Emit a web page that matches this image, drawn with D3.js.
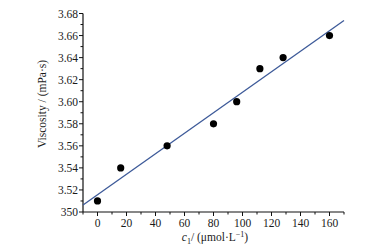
<!DOCTYPE html>
<html><head><meta charset="utf-8">
<script src="https://cdn.jsdelivr.net/npm/d3@7"></script>
<style>body{margin:0;background:#fff}svg{display:block}text{font-family:"Liberation Serif","DejaVu Serif",serif;fill:#1a1a1a}</style>
</head><body><div id="chart"></div>
<script>
const concentrations = [0, 16, 48, 80, 96, 112, 128, 160];
const viscosity = [3.51, 3.54, 3.56, 3.58, 3.60, 3.63, 3.64, 3.66];
const xTicks = [0, 20, 40, 60, 80, 100, 120, 140, 160];
const yTicks = [3.50, 3.52, 3.54, 3.56, 3.58, 3.60, 3.62, 3.64, 3.66, 3.68];
const yTickLabels = ["350", "3.52", "3.54", "3.56", "3.58", "3.60", "3.62", "3.64", "3.66", "3.68"];
const fitRange = [-10, 170];

const W = 378, H = 249;
const svg = d3.select("#chart").append("svg").attr("width", W).attr("height", H);
const x = d3.scaleLinear().domain([-10, 170]).range([83, 344]);
const y = d3.scaleLinear().domain([3.50, 3.68]).range([212, 13.5]);

// least squares fit from data
const mx = d3.mean(concentrations), my = d3.mean(viscosity);
let sxy = 0, sxx = 0;
concentrations.forEach((c, i) => { sxy += (c - mx) * (viscosity[i] - my); sxx += (c - mx) ** 2; });
const slope = sxy / sxx, icpt = my - slope * mx;

// minor ticks
const xMinor = d3.range(-10, 171, 10).filter(v => !xTicks.includes(v));
const yMinor = d3.range(0, 19).map(i => +(3.50 + i * 0.01).toFixed(2)).filter(v => !yTicks.some(t => Math.abs(t - v) < 1e-9));

const gx = svg.append("g").attr("transform", `translate(0,${y(3.50)})`);
gx.append("line").attr("x1", x(-10)).attr("x2", x(170)).attr("stroke", "#111").attr("stroke-width", 1.2);
gx.selectAll(".xmaj").data(xTicks).join("line").attr("x1", d => x(d)).attr("x2", d => x(d)).attr("y1", 0).attr("y2", 4).attr("stroke", "#111");
gx.selectAll(".xmin").data(xMinor).join("line").attr("x1", d => x(d)).attr("x2", d => x(d)).attr("y1", 0).attr("y2", 2.5).attr("stroke", "#111");
gx.selectAll(".xl").data(xTicks).join("text").attr("x", d => x(d)).attr("y", 15).attr("text-anchor", "middle").attr("font-size", 11.5).text(d => d);

const gy = svg.append("g").attr("transform", `translate(${x(-10)},0)`);
gy.append("line").attr("y1", y(3.50)).attr("y2", y(3.68)).attr("stroke", "#111").attr("stroke-width", 1.2);
gy.selectAll(".ymaj").data(yTicks).join("line").attr("y1", d => y(d)).attr("y2", d => y(d)).attr("x1", 0).attr("x2", -4).attr("stroke", "#111");
gy.selectAll(".ymin").data(yMinor).join("line").attr("y1", d => y(d)).attr("y2", d => y(d)).attr("x1", 0).attr("x2", -2.5).attr("stroke", "#111");
gy.selectAll(".yl").data(yTicks).join("text").attr("x", -5).attr("y", d => y(d) + 4).attr("text-anchor", "end").attr("font-size", 11.5).text((d, i) => yTickLabels[i]);

// fit line
svg.append("line")
  .attr("x1", x(fitRange[0])).attr("y1", y(icpt + slope * fitRange[0]))
  .attr("x2", x(fitRange[1])).attr("y2", y(icpt + slope * fitRange[1]))
  .attr("stroke", "#3d5a99").attr("stroke-width", 1.3);

svg.selectAll(".pt").data(concentrations).join("circle")
  .attr("cx", d => x(d)).attr("cy", (d, i) => y(viscosity[i])).attr("r", 3.6).attr("fill", "#000");

// axis titles
svg.append("text").attr("transform", `translate(46,104) rotate(-90)`).attr("text-anchor", "middle").attr("font-size", 11.5).text("Viscosity / (mPa·s)");
const xt = svg.append("text").attr("x", 215).attr("y", 241).attr("text-anchor", "middle").attr("font-size", 11.5);
xt.append("tspan").attr("font-style", "italic").text("c");
xt.append("tspan").attr("font-size", 8).attr("dy", 3).text("1");
xt.append("tspan").attr("dy", -3).text("/ (μmol·L");
xt.append("tspan").attr("font-size", 8).attr("dy", -4).text("−1");
xt.append("tspan").attr("dy", 4).text(")");
</script></body></html>
